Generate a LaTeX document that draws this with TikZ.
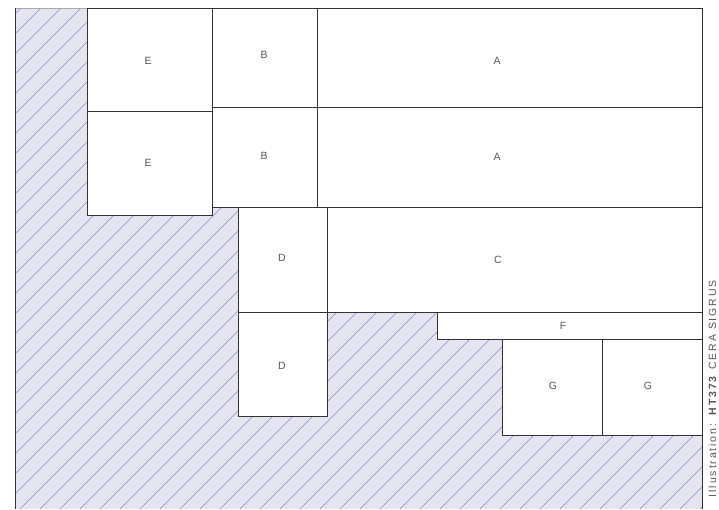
\documentclass[tikz,border=0pt]{standalone}
\usepackage{fontspec}
\setmainfont{Liberation Sans}
\definecolor{hatchbg}{HTML}{E5E5F2}
\definecolor{hatchln}{HTML}{8A8AD0}
\definecolor{linec}{HTML}{333333}
\definecolor{labc}{HTML}{555555}
\definecolor{topc}{HTML}{AAAAAA}
\begin{document}
\begin{tikzpicture}[x=1pt,y=-1pt,
  box/.style={draw=linec, line width=0.9pt, fill=white, rectangle, inner sep=0pt, anchor=north west},
  lab/.style={text=labc, font=\fontsize{10.5}{12}\selectfont, inner sep=0pt},
  credit/.style={text=labc, font=\fontsize{10.5}{12}\selectfont\addfontfeatures{LetterSpace=18}, rotate=90, anchor=base east, inner sep=0pt}]
\useasboundingbox (0,0) rectangle (719,509);
\fill[white] (0,0) rectangle (719,509);
% hatched ground
\fill[hatchbg] (15,8) rectangle (702,509);
\begin{scope}
  \clip (15,8) rectangle (702,509);
  \foreach \x in {-520,-500,...,720} {
    \draw[hatchln, line width=0.6pt] (\x,509) -- ++(520,-520);
  }
\end{scope}
\draw[topc, line width=0.8pt] (15,8) -- (702,8);
\draw[linec, line width=1pt] (15,8) -- (15,509);
\draw[linec, line width=1pt] (702,8) -- (702,509);
% blocks
\node[box, minimum width=125pt, minimum height=103pt] (e1) at (87,8) {};
\node[box, minimum width=125pt, minimum height=104pt] (e2) at (87,111) {};
\node[box, minimum width=105pt, minimum height=99pt] (b1) at (212,8) {};
\node[box, minimum width=105pt, minimum height=100pt] (b2) at (212,107) {};
\node[box, minimum width=385pt, minimum height=99pt] (a1) at (317,8) {};
\node[box, minimum width=385pt, minimum height=100pt] (a2) at (317,107) {};
\node[box, minimum width=89pt, minimum height=105pt] (d1) at (238,207) {};
\node[box, minimum width=89pt, minimum height=104pt] (d2) at (238,312) {};
\node[box, minimum width=375pt, minimum height=105pt] (c1) at (327,207) {};
\node[box, minimum width=265pt, minimum height=27pt] (f1) at (437,312) {};
\node[box, minimum width=100pt, minimum height=96pt] (g1) at (502,339) {};
\node[box, minimum width=100pt, minimum height=96pt] (g2) at (602,339) {};
% labels
\node[lab] (le1) at (148,61) {E};
\node[lab] (le2) at (148,163) {E};
\node[lab] (lb1) at (264,55) {B};
\node[lab] (lb2) at (264,156) {B};
\node[lab] (la1) at (497,61) {A};
\node[lab] (la2) at (497,157) {A};
\node[lab] (ld1) at (282,258) {D};
\node[lab] (ld2) at (282,366) {D};
\node[lab] (lc1) at (498,260) {C};
\node[lab] (lf1) at (563,326) {F};
\node[lab] (lg1) at (553,386) {G};
\node[lab] (lg2) at (648,386) {G};
% credit line along the right edge
\node[credit] (cr) at (716,280) {Illustration: \textbf{HT373} CERA SIGRUS};
\end{tikzpicture}
\end{document}
